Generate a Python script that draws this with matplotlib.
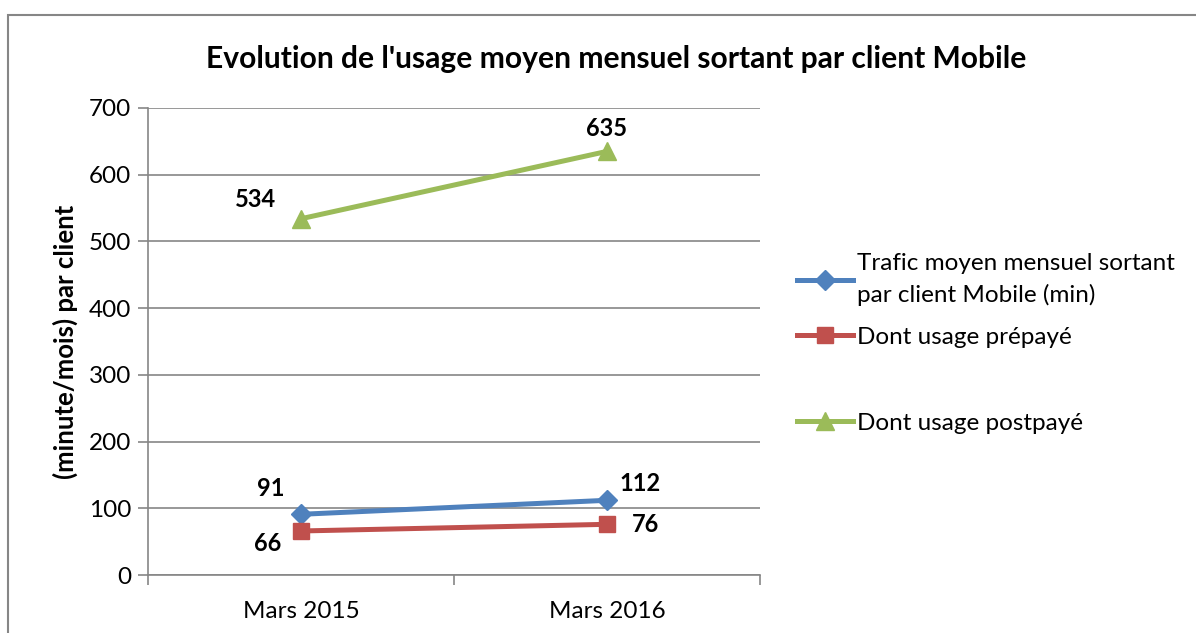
import matplotlib.pyplot as plt
from matplotlib.patches import Rectangle

plt.rcParams['font.family'] = ['Lato', 'DejaVu Sans']

categories = ['Mars 2015', 'Mars 2016']
trafic = [91, 112]
prepaye = [66, 76]
postpaye = [534, 635]
labels = ['Trafic moyen mensuel sortant\npar client Mobile (min)',
          'Dont usage prépayé',
          'Dont usage postpayé']

blue = '#4F81BD'
red = '#C0504D'
green = '#9BBB59'
grey = '#868686'

fig = plt.figure(figsize=(11.96, 6.33), dpi=100)
ax = fig.add_axes([0.1237, 0.0916, 0.6355 - 0.1237, 0.8294 - 0.0916])

x = list(range(len(categories)))
l1, = ax.plot(x, trafic, color=blue, lw=3.6, marker='D', ms=10)
l2, = ax.plot(x, prepaye, color=red, lw=3.6, marker='s', ms=12)
l3, = ax.plot(x, postpaye, color=green, lw=3.6, marker='^', ms=13)

# data labels, placed like the original
lab = dict(fontsize=17, fontweight='bold', textcoords='offset points')
ax.annotate(str(trafic[0]), (x[0], trafic[0]), xytext=(-22, 10), ha='center', va='bottom', **lab)
ax.annotate(str(trafic[1]), (x[1], trafic[1]), xytext=(24, 4), ha='center', va='bottom', **lab)
ax.annotate(str(prepaye[0]), (x[0], prepaye[0]), xytext=(-24, -1), ha='center', va='top', **lab)
ax.annotate(str(prepaye[1]), (x[1], prepaye[1]), xytext=(28, 0), ha='center', va='center', **lab)
ax.annotate(str(postpaye[0]), (x[0], postpaye[0]), xytext=(-33, 14), ha='center', va='center', **lab)
ax.annotate(str(postpaye[1]), (x[1], postpaye[1]), xytext=(0, 8), ha='center', va='bottom', **lab)

ax.set_xlim(-0.5, 1.5)
ax.set_ylim(0, 700)
ax.set_yticks(range(0, 701, 100))
ax.set_xticks([-0.5, 0.5, 1.5])
ax.set_xticklabels([])
ax.set_xticks(x, minor=True)
ax.set_xticklabels(categories, minor=True)
ax.tick_params(axis='x', which='minor', length=0, labelsize=17.5, pad=19)
ax.tick_params(axis='x', which='major', length=7, color=grey, width=1.2)
ax.tick_params(axis='y', length=7, color=grey, width=1.2, labelsize=17.5, pad=5)

ax.grid(axis='y', color=grey, lw=1.2)
ax.set_axisbelow(True)
for s in ['top', 'right']:
    ax.spines[s].set_visible(False)
for s in ['left', 'bottom']:
    ax.spines[s].set_color(grey)
    ax.spines[s].set_linewidth(1.2)

ax.set_ylabel('(minute/mois) par client', fontsize=18.5, fontweight='bold', labelpad=8)

fig.text(0.515, 0.907, "Evolution de l'usage moyen mensuel sortant par client Mobile",
         ha='center', va='center', fontsize=21.6, fontweight='bold')

# legend in two parts so the gap before the last entry matches
leg_kw = dict(frameon=False, fontsize=17.5, handlelength=2.3, handletextpad=0.15,
              borderaxespad=0, borderpad=0)
leg1 = ax.legend([l1, l2], labels[:2], loc='center left', bbox_to_anchor=(1.061, 0.588),
                 labelspacing=0.85, **leg_kw)
for t in leg1.get_texts():
    t.set_linespacing(1.55)
ax.add_artist(leg1)
ax.legend([l3], labels[2:], loc='center left', bbox_to_anchor=(1.061, 0.325), **leg_kw)

fig.add_artist(Rectangle((8 / 1196, -0.1), 1.2, 1 - 15 / 633 + 0.1,
                         transform=fig.transFigure, fill=False, ec=grey, lw=1.5))

fig.savefig('out.png')
